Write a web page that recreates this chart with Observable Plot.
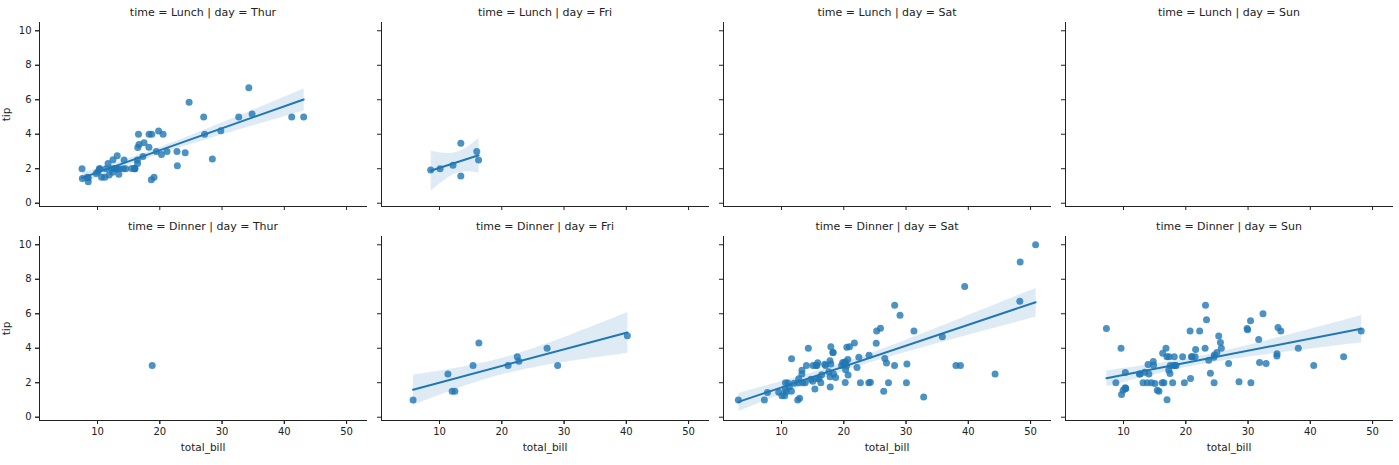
<!DOCTYPE html>
<html>
<head>
<meta charset="utf-8">
<script src="https://cdn.jsdelivr.net/npm/d3@7"></script>
<script src="https://cdn.jsdelivr.net/npm/@observablehq/plot@0.6"></script>
<style>
  html, body { margin: 0; padding: 0; background: #fff; }
  #chart svg { display: block; }
</style>
</head>
<body>
<div id="chart"></div>
<script>
// Facet categories
const days = ["Thur", "Fri", "Sat", "Sun"];
const times = ["Lunch", "Dinner"];
const xTicks = [10, 20, 30, 40, 50];
const yTicks = [0, 2, 4, 6, 8, 10];
const xLabel = "total_bill";
const yLabel = "tip";

// time = Lunch | day = Thur
const thurLunchBill = [27.2,22.76,17.29,19.44,16.66,10.07,32.68,15.98,34.83,13.03,18.28,24.71,21.16,10.65,12.43,24.08,11.69,13.42,14.26,15.95,12.48,29.8,8.52,14.52,11.38,22.82,19.08,20.27,11.17,12.26,18.26,8.51,10.33,14.15,16.0,13.16,17.47,34.3,41.19,27.05,16.43,8.35,18.64,11.87,9.78,7.51,19.81,28.44,15.48,16.58,7.56,10.34,43.11,13.0,13.51,18.71,12.74,13.0,16.4,20.53,16.47];
const thurLunchTip = [4.0,3.0,2.71,3.0,3.4,1.83,5.0,2.03,5.17,2.0,4.0,5.85,3.0,1.5,1.8,2.92,2.31,1.68,2.5,2.0,2.52,4.2,1.48,2.0,2.0,2.18,1.5,2.83,1.5,2.0,3.25,1.25,2.0,2.0,2.0,2.75,3.5,6.7,5.0,5.0,2.3,1.5,1.36,1.63,1.73,2.0,4.19,2.56,2.02,4.0,1.44,2.0,5.0,2.0,2.0,4.0,2.01,2.0,2.5,4.0,3.23];

// time = Lunch | day = Fri
const friLunchBill = [12.16,13.42,8.58,15.98,13.42,16.27,10.09];
const friLunchTip = [2.2,3.48,1.92,3.0,1.58,2.5,2.0];

// time = Dinner | day = Thur
const thurDinnerBill = [18.78];
const thurDinnerTip = [3.0];

// time = Dinner | day = Fri
const friDinnerBill = [28.97,22.49,5.75,16.32,22.75,40.17,27.28,12.03,21.01,12.46,11.35,15.38];
const friDinnerTip = [3.0,3.5,1.0,4.3,3.25,4.73,4.0,1.5,3.0,1.5,2.5,3.0];

// time = Dinner | day = Sat
const satDinnerBill = [20.65,17.92,20.29,15.77,39.42,19.82,17.81,13.37,12.69,21.7,19.65,9.55,18.35,15.06,20.69,17.78,24.06,16.31,16.93,18.69,31.27,16.04,38.01,26.41,11.24,48.27,20.29,13.81,11.02,18.29,17.59,20.08,16.45,3.07,20.23,15.01,12.02,17.07,26.86,25.28,14.73,10.51,17.92,44.3,22.42,20.92,15.36,20.49,25.21,18.24,14.31,14.0,7.25,10.59,10.63,50.81,15.81,26.59,38.73,24.27,12.76,30.06,25.89,48.33,13.27,28.17,12.9,28.15,11.59,7.74,30.14,20.45,13.28,22.12,24.01,15.69,11.61,10.77,15.53,10.07,12.6,32.83,35.83,29.03,27.18,22.67,17.82];
const satDinnerTip = [3.35,4.08,2.75,2.23,7.58,3.18,2.34,2.0,2.0,4.3,3.0,1.45,2.5,3.0,2.45,3.27,3.6,2.0,3.07,2.31,5.0,2.24,3.0,1.5,1.76,6.73,3.21,2.0,1.98,3.76,2.64,3.15,2.47,1.0,2.01,2.09,1.97,3.0,3.14,5.0,2.2,1.25,3.08,2.5,3.48,4.08,1.64,4.06,4.29,3.76,4.0,3.0,1.0,1.61,2.0,10.0,3.16,3.41,3.0,2.03,2.23,2.0,5.16,9.0,2.5,6.5,1.1,3.0,1.5,1.44,3.09,3.0,2.72,2.88,2.0,3.0,3.39,1.47,3.0,1.25,1.0,1.17,4.67,5.92,2.0,2.0,1.75];

// time = Dinner | day = Sun
const sunDinnerBill = [16.99,10.34,21.01,23.68,24.59,25.29,8.77,26.88,15.04,14.78,10.27,35.26,15.42,18.43,14.83,21.58,10.33,16.29,16.97,17.46,13.94,9.68,30.4,18.29,22.23,32.4,28.55,18.04,12.54,10.29,34.81,9.94,25.56,19.49,38.07,23.95,25.71,17.31,29.93,14.07,13.13,17.26,24.55,19.77,29.85,48.17,25.0,13.39,16.49,21.5,12.66,16.21,13.81,17.51,24.52,20.76,31.71,7.25,31.85,16.82,32.9,17.89,14.48,9.6,34.63,34.65,23.33,45.35,23.17,40.55,20.69,20.9,30.46,18.15,23.1,15.69];
const sunDinnerTip = [1.01,1.66,3.5,3.31,3.61,4.71,2.0,3.12,1.96,3.23,1.71,5.0,1.57,3.0,3.02,3.92,1.67,3.71,3.5,2.54,3.06,1.32,5.6,3.0,5.0,6.0,2.05,3.0,2.5,2.6,5.2,1.56,4.34,3.51,4.0,2.55,4.0,3.5,5.07,2.5,2.0,2.74,2.0,2.0,5.14,5.0,3.75,2.61,2.0,3.5,2.5,2.0,2.0,3.0,3.48,2.24,4.5,5.15,3.18,4.0,3.11,2.0,2.0,4.0,3.55,3.68,5.65,3.5,6.5,3.0,5.0,3.5,2.0,3.5,4.0,1.5];

// Build table
const groups = [
  ["Thur", "Lunch", thurLunchBill, thurLunchTip],
  ["Fri", "Lunch", friLunchBill, friLunchTip],
  ["Thur", "Dinner", thurDinnerBill, thurDinnerTip],
  ["Fri", "Dinner", friDinnerBill, friDinnerTip],
  ["Sat", "Dinner", satDinnerBill, satDinnerTip],
  ["Sun", "Dinner", sunDinnerBill, sunDinnerTip]
];
const rows = [];
for (const [day, time, bills, tips] of groups) {
  bills.forEach((b, i) => rows.push({day, time, total_bill: b, tip: tips[i], n: bills.length}));
}
const regRows = rows.filter(d => d.n >= 3);
const facetTitles = [];
for (const time of times) for (const day of days) facetTitles.push({day, time, label: `time = ${time} | day = ${day}`});
const yLabels = times.map(time => ({day: days[0], time, label: yLabel}));
const xLabels = days.map(day => ({day, time: times[times.length - 1], label: xLabel}));

const blue = "#1f77b4";

const chart = Plot.plot({
  width: 1399,
  height: 465,
  marginLeft: 39,
  marginRight: 7,
  marginTop: 22,
  marginBottom: 44,
  style: {fontFamily: "DejaVu Sans, sans-serif", fontSize: "10px", color: "#222", background: "#fff"},
  x: {domain: [0.68, 53.2]},
  y: {domain: [-0.19, 10.48]},
  fx: {domain: days, paddingInner: 0.045, paddingOuter: 0, axis: null},
  fy: {domain: times, paddingInner: 0.14, paddingOuter: 0, axis: null},
  marks: [
    Plot.frame({anchor: "left", stroke: "#222", strokeWidth: 1}),
    Plot.frame({anchor: "bottom", stroke: "#222", strokeWidth: 1}),
    Plot.axisX({ticks: xTicks, tickFormat: () => "", label: null, facetAnchor: null, tickSize: 4}),
    Plot.axisY({ticks: yTicks, tickFormat: () => "", label: null, facetAnchor: null, tickSize: 4}),
    Plot.axisX({ticks: xTicks, facetAnchor: "bottom", tickSize: 4, tickPadding: 3, fontSize: 10, label: null}),
    Plot.axisY({ticks: yTicks, facetAnchor: "left", tickSize: 4, tickPadding: 4, fontSize: 10, label: null}),
    Plot.linearRegressionY(regRows, {x: "total_bill", y: "tip", fx: "day", fy: "time",
      stroke: blue, fill: blue, fillOpacity: 0.15, strokeWidth: 2, ci: 0.95}),
    Plot.dot(rows, {x: "total_bill", y: "tip", fx: "day", fy: "time", r: 3.5, fill: blue, fillOpacity: 0.8}),
    Plot.text(facetTitles, {fx: "day", fy: "time", text: "label", frameAnchor: "top", lineAnchor: "middle", dy: -10, fontSize: 11, fill: "#222"}),
    Plot.text(yLabels, {fx: "day", fy: "time", text: "label", frameAnchor: "left", lineAnchor: "middle", textAnchor: "middle", dx: -32.5, rotate: -90, fontSize: 10.5, fill: "#222"}),
    Plot.text(xLabels, {fx: "day", fy: "time", text: "label", frameAnchor: "bottom", lineAnchor: "middle", dy: 27, fontSize: 10.5, fill: "#222"})
  ]
});
document.getElementById("chart").appendChild(chart);
</script>
</body>
</html>
